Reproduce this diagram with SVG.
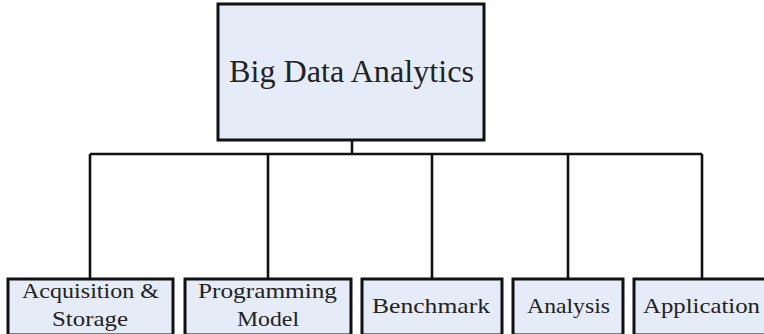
<svg xmlns="http://www.w3.org/2000/svg" width="764" height="334" viewBox="0 0 764 334">
<style>
.box{fill:#e6ecf7;stroke:#111;stroke-width:3}
.ln{fill:none;stroke:#111;stroke-width:2.6}
text{font-family:"Liberation Serif","DejaVu Serif",serif;fill:#222;text-anchor:middle}
.t{font-size:31px}
.s{font-size:21px}
</style>
<rect width="764" height="334" fill="#fff"/>
<g id="connectors">
<path class="ln" d="M352 140V154M90 154H702M90 154V279M268 154V279M432 154V279M568 154V279M702 154V279"/>
</g>
<g id="root"><rect class="box" x="218" y="4" width="266" height="136"/><text class="t" x="351.5" y="82" textLength="245" lengthAdjust="spacingAndGlyphs">Big Data Analytics</text></g>
<g id="acq"><rect class="box" x="8" y="279" width="165" height="56"/><text class="s" x="90.5" y="298" textLength="137" lengthAdjust="spacingAndGlyphs">Acquisition &amp;</text><text class="s" x="90" y="326" textLength="76" lengthAdjust="spacingAndGlyphs">Storage</text></g>
<g id="prog"><rect class="box" x="185" y="279" width="166" height="56"/><text class="s" x="267.5" y="298" textLength="139" lengthAdjust="spacingAndGlyphs">Programming</text><text class="s" x="268" y="326" textLength="62" lengthAdjust="spacingAndGlyphs">Model</text></g>
<g id="bench"><rect class="box" x="362" y="279" width="140" height="56"/><text class="s" x="431" y="313" textLength="118" lengthAdjust="spacingAndGlyphs">Benchmark</text></g>
<g id="ana"><rect class="box" x="513" y="279" width="110" height="56"/><text class="s" x="568.5" y="313" textLength="83" lengthAdjust="spacingAndGlyphs">Analysis</text></g>
<g id="app"><rect class="box" x="634" y="279" width="140" height="56"/><text class="s" x="701.5" y="313" textLength="117" lengthAdjust="spacingAndGlyphs">Application</text></g>
</svg>
